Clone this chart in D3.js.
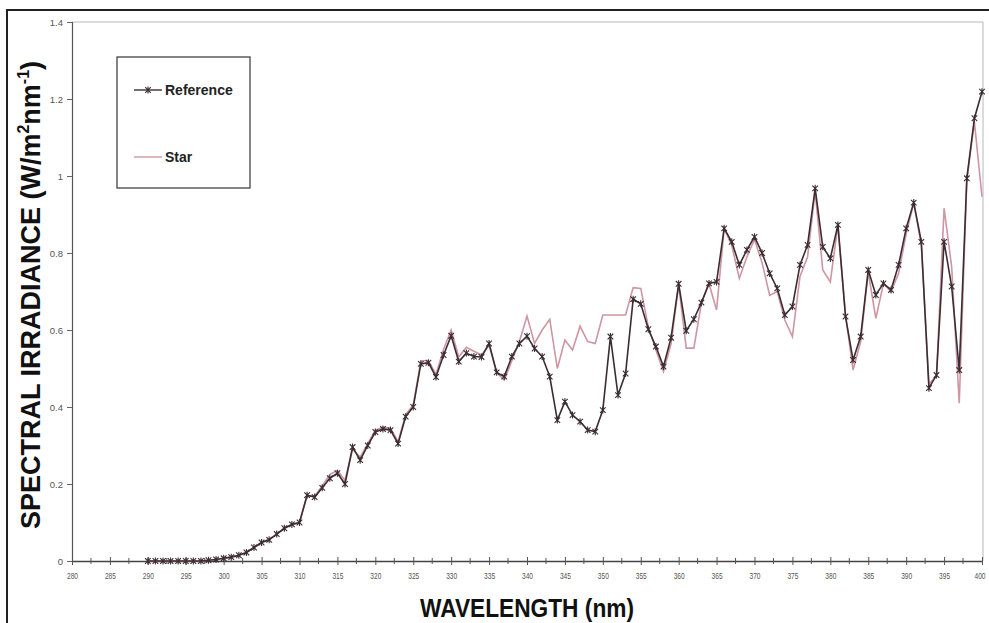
<!DOCTYPE html>
<html>
<head>
<meta charset="utf-8">
<script src="https://cdn.jsdelivr.net/npm/d3@7/dist/d3.min.js"></script>
<style>
  html, body { margin: 0; padding: 0; background: #fff; }
  svg { display: block; }
</style>
</head>
<body>
<svg id="chart" width="989" height="623"></svg>
<script>
// Wavelengths sampled every 1 nm, 290-400 nm
const wavelengths = d3.range(290, 401);

// Spectral irradiance, W m^-2 nm^-1
const referenceValues = [
  0, 0, 0, 0, 0, 0, 0, 0, 0.002, 0.004,            // 290-299
  0.007, 0.01, 0.015, 0.022, 0.035, 0.048, 0.055, 0.07, 0.085, 0.095, // 300-309
  0.1, 0.171, 0.166, 0.19, 0.215, 0.228, 0.2, 0.296, 0.262, 0.3,       // 310-319
  0.335, 0.343, 0.34, 0.305, 0.375, 0.4, 0.512, 0.515, 0.478, 0.535,  // 320-329
  0.585, 0.518, 0.54, 0.531, 0.53, 0.565, 0.49, 0.479, 0.531, 0.565,  // 330-339
  0.584, 0.552, 0.531, 0.479, 0.366, 0.414, 0.379, 0.362, 0.34, 0.336, // 340-349
  0.392, 0.583, 0.431, 0.487, 0.68, 0.668, 0.602, 0.557, 0.505, 0.58, // 350-359
  0.72, 0.598, 0.628, 0.671, 0.721, 0.725, 0.864, 0.829, 0.769, 0.808, // 360-369
  0.842, 0.8, 0.747, 0.708, 0.639, 0.661, 0.769, 0.821, 0.968, 0.816, // 370-379
  0.786, 0.873, 0.635, 0.522, 0.583, 0.756, 0.691, 0.721, 0.704, 0.769, // 380-389
  0.864, 0.931, 0.829, 0.449, 0.483, 0.829, 0.713, 0.496, 0.994, 1.15, // 390-399
  1.219                                                                 // 400
];

const starValues = [
  0, 0, 0, 0, 0, 0, 0, 0, 0.002, 0.004,
  0.007, 0.01, 0.015, 0.022, 0.035, 0.048, 0.057, 0.07, 0.085, 0.095,
  0.1, 0.17, 0.168, 0.195, 0.225, 0.235, 0.21, 0.29, 0.27, 0.305,
  0.34, 0.347, 0.345, 0.31, 0.38, 0.405, 0.52, 0.52, 0.485, 0.55,
  0.6, 0.53, 0.555, 0.545, 0.535, 0.56, 0.49, 0.47, 0.52, 0.57,
  0.636, 0.565, 0.6, 0.628, 0.5, 0.574, 0.548, 0.61, 0.57, 0.565,
  0.639, 0.639, 0.639, 0.639, 0.71, 0.708, 0.608, 0.548, 0.492, 0.565,
  0.717, 0.553, 0.553, 0.67, 0.72, 0.652, 0.864, 0.82, 0.734, 0.79,
  0.835, 0.775, 0.69, 0.7, 0.626, 0.583, 0.739, 0.79, 0.96, 0.756,
  0.725, 0.873, 0.64, 0.496, 0.57, 0.75, 0.63, 0.72, 0.7, 0.747,
  0.85, 0.93, 0.82, 0.46, 0.48, 0.916, 0.764, 0.41, 0.99, 1.14,
  0.946
];

const xTickValues = d3.range(280, 401, 5);
const yTickValues = [0, 0.2, 0.4, 0.6, 0.8, 1, 1.2, 1.4];
const seriesNames = ["Reference", "Star"];

const svg = d3.select("#chart");
const plot = { left: 72, right: 982, top: 22, bottom: 561 };

const x = d3.scaleLinear().domain([280, 400]).range([plot.left, plot.right]);
const y = d3.scaleLinear().domain([0, 1.4]).range([plot.bottom, plot.top]);

const refColor = "#3b2d31";
const starColor = "#cf95a0";
const labelFont = "'Liberation Sans Narrow', 'Liberation Sans', Arial, sans-serif";

// Outer frame (left and top edges)
svg.append("path")
  .attr("d", "M7,623 L7,10 L989,10")
  .attr("fill", "none")
  .attr("stroke", "#222")
  .attr("stroke-width", 2);

// Plot area border
svg.append("path")
  .attr("d", `M${plot.left},${plot.top} L${plot.right + 1},${plot.top} L${plot.right + 1},${plot.bottom}`)
  .attr("fill", "none")
  .attr("stroke", "#b8b8b8")
  .attr("stroke-width", 1);

// Y axis
const yAxis = d3.axisLeft(y)
  .tickValues(yTickValues)
  .tickSize(5)
  .tickPadding(4)
  .tickFormat(d3.format("~g"));
const gy = svg.append("g")
  .attr("transform", `translate(${plot.left},0)`)
  .call(yAxis);
gy.select(".domain").attr("stroke", "#555").attr("stroke-width", 1.2);
gy.selectAll(".tick line").attr("stroke", "#666");
gy.selectAll(".tick text")
  .attr("font-family", labelFont)
  .attr("font-size", 9.5)
  .attr("fill", "#555");

// X axis: labelled ticks every 5 nm, crossing the axis line
const xAxis = d3.axisBottom(x)
  .tickValues(xTickValues)
  .tickSizeInner(4)
  .tickSizeOuter(0)
  .tickPadding(8)
  .tickFormat(d3.format("d"));
const gx = svg.append("g")
  .attr("transform", `translate(0,${plot.bottom})`)
  .call(xAxis);
gx.select(".domain").attr("stroke", "#444").attr("stroke-width", 1.4);
gx.selectAll(".tick line").attr("y1", -4).attr("stroke", "#555");
gx.selectAll(".tick text")
  .attr("font-family", labelFont)
  .attr("font-size", 9)
  .attr("fill", "#555")
  .attr("textLength", 11)
  .attr("lengthAdjust", "spacingAndGlyphs");
// keep the last label inside the frame
gx.selectAll(".tick text").filter(d => d === 400).attr("dx", -2.5);

// Minor ticks between labels
const minor = d3.range(282.5, 400, 5);
svg.append("g").selectAll("line")
  .data(minor)
  .join("line")
  .attr("x1", d => x(d)).attr("x2", d => x(d))
  .attr("y1", plot.bottom - 3).attr("y2", plot.bottom + 3)
  .attr("stroke", "#555");

// Axis titles
svg.append("text")
  .attr("x", 527)
  .attr("y", 617)
  .attr("text-anchor", "middle")
  .attr("font-family", labelFont)
  .attr("font-weight", "bold")
  .attr("font-size", 26)
  .attr("fill", "#111")
  .attr("textLength", 214)
  .attr("lengthAdjust", "spacingAndGlyphs")
  .text("WAVELENGTH (nm)");

const yTitle = svg.append("text")
  .attr("transform", "translate(40,295) rotate(-90)")
  .attr("text-anchor", "middle")
  .attr("font-family", labelFont)
  .attr("font-weight", "bold")
  .attr("font-size", 27)
  .attr("fill", "#111");
yTitle.append("tspan").text("SPECTRAL IRRADIANCE (W/m");
yTitle.append("tspan").attr("font-size", 16).attr("dy", -11).text("2");
yTitle.append("tspan").attr("dy", 11).text("nm");
yTitle.append("tspan").attr("font-size", 16).attr("dy", -11).text("-1");
yTitle.append("tspan").attr("dy", 11).text(")");

// Series
const refData = wavelengths.map((w, i) => ({ w, v: referenceValues[i] }));
const starData = wavelengths.map((w, i) => ({ w, v: starValues[i] }));

const line = d3.line().x(d => x(d.w)).y(d => y(d.v));

svg.append("path")
  .datum(starData)
  .attr("fill", "none")
  .attr("stroke", starColor)
  .attr("stroke-width", 1.6)
  .attr("d", line);

svg.append("path")
  .datum(refData)
  .attr("fill", "none")
  .attr("stroke", refColor)
  .attr("stroke-width", 1.6)
  .attr("d", line);

// Asterisk markers on the reference series
const asterisk = "M-2.8,-2.8L2.8,2.8M-2.8,2.8L2.8,-2.8M0,-3.5L0,3.5";
svg.append("g").selectAll("path")
  .data(refData)
  .join("path")
  .attr("transform", d => `translate(${x(d.w)},${y(d.v)})`)
  .attr("d", asterisk)
  .attr("fill", "none")
  .attr("stroke", refColor)
  .attr("stroke-width", 1.1);

// Legend
const legend = svg.append("g");
legend.append("rect")
  .attr("x", 117).attr("y", 57)
  .attr("width", 133).attr("height", 131)
  .attr("fill", "#fff")
  .attr("stroke", "#444")
  .attr("stroke-width", 1.3);

const legendRows = [
  { name: seriesNames[0], color: refColor, y: 90, marker: true },
  { name: seriesNames[1], color: starColor, y: 157, marker: false }
];
legendRows.forEach(r => {
  legend.append("line")
    .attr("x1", 134).attr("x2", 162)
    .attr("y1", r.y).attr("y2", r.y)
    .attr("stroke", r.color)
    .attr("stroke-width", 1.4);
  if (r.marker) {
    legend.append("path")
      .attr("transform", `translate(148,${r.y})`)
      .attr("d", asterisk)
      .attr("fill", "none")
      .attr("stroke", r.color)
      .attr("stroke-width", 1.1);
  }
  legend.append("text")
    .attr("x", 165).attr("y", r.y + 5)
    .attr("font-family", labelFont)
    .attr("font-weight", "bold")
    .attr("font-size", 14)
    .attr("fill", "#222")
    .text(r.name);
});
</script>
</body>
</html>
